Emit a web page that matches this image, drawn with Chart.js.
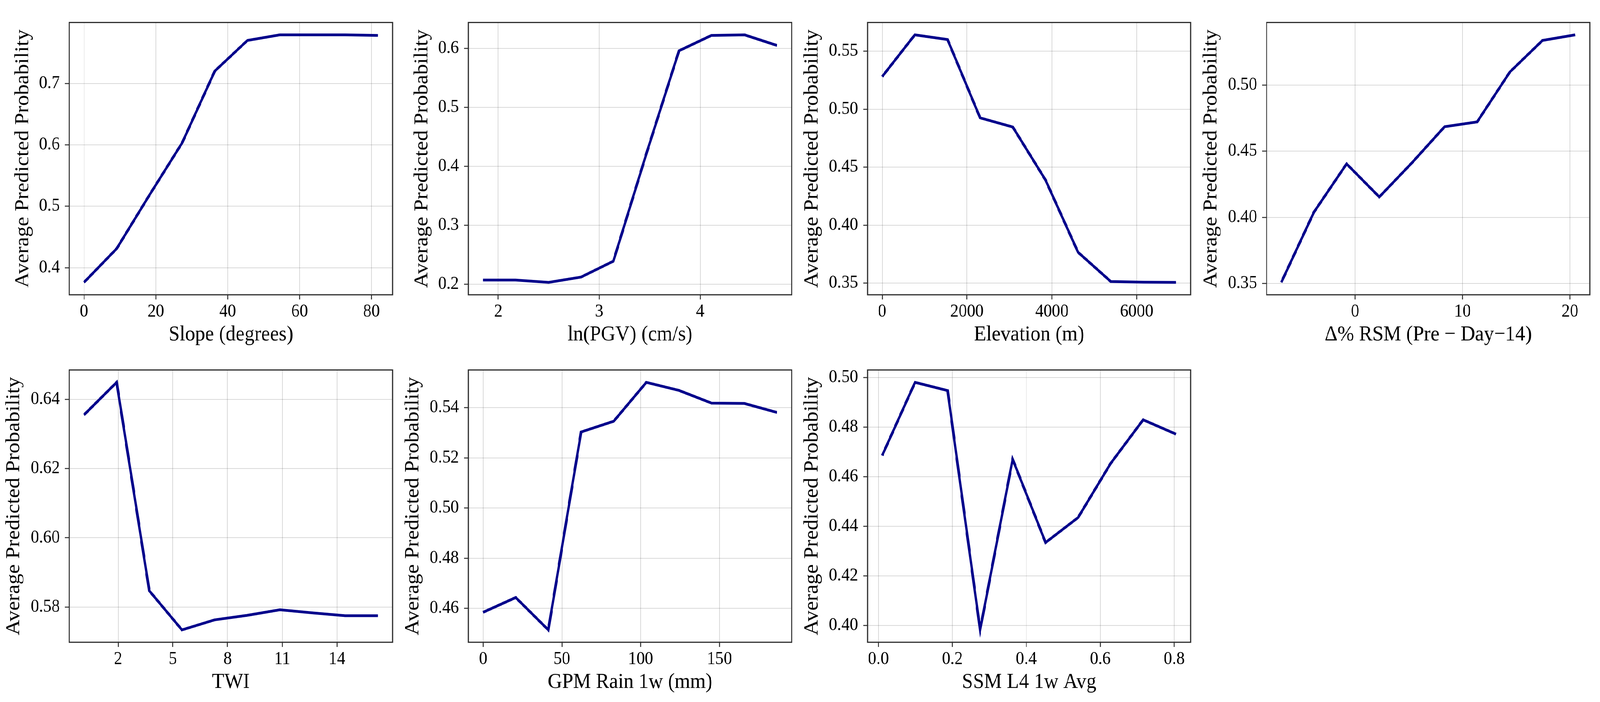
<!DOCTYPE html>
<html lang="en">
<head>
<meta charset="UTF-8">
<title>Average Predicted Probability</title>
<script src="https://cdn.jsdelivr.net/npm/chart.js"></script>
<style>
  html, body { margin: 0; padding: 0; background: #fff; overflow: hidden; }
  #page { position: absolute; left: 0; top: 0; width: 4410px; height: 1798px; transform-origin: 0 0; background: #fff; }
  canvas { position: absolute; }
</style>
</head>
<body>
<div id="page"></div>
<script>
// values
const slopeX = [0, 9.1, 18.2, 27.3, 36.4, 45.5, 54.5, 63.6, 72.7, 81.8];
const slopeY = [0.376, 0.431, 0.518, 0.603, 0.720, 0.770, 0.779, 0.779, 0.779, 0.778];
const slopeXTicks = ['0', '20', '40', '60', '80'];
const slopeYTicks = ['0.4', '0.5', '0.6', '0.7'];

const pgvX = [1.85, 2.17, 2.50, 2.82, 3.14, 3.47, 3.79, 4.11, 4.44, 4.76];
const pgvY = [0.207, 0.207, 0.203, 0.212, 0.239, 0.423, 0.596, 0.622, 0.623, 0.605];
const pgvXTicks = ['2', '3', '4'];
const pgvYTicks = ['0.2', '0.3', '0.4', '0.5', '0.6'];

const elevX = [0, 770, 1540, 2309, 3079, 3849, 4619, 5389, 6158, 6928];
const elevY = [0.528, 0.564, 0.560, 0.4925, 0.4846, 0.439, 0.3766, 0.3515, 0.3509, 0.3507];
const elevXTicks = ['0', '2000', '4000', '6000'];
const elevYTicks = ['0.35', '0.40', '0.45', '0.50', '0.55'];

const rsmX = [-6.87, -3.83, -0.79, 2.25, 5.29, 8.33, 11.36, 14.40, 17.44, 20.48];
const rsmY = [0.3508, 0.4039, 0.4404, 0.4154, 0.4412, 0.4685, 0.4721, 0.5098, 0.5337, 0.5379];
const rsmXTicks = ['0', '10', '20'];
const rsmYTicks = ['0.35', '0.40', '0.45', '0.50'];

const twiX = [0.13, 1.92, 3.71, 5.50, 7.29, 9.08, 10.87, 12.66, 14.45, 16.24];
const twiY = [0.6355, 0.6449, 0.5847, 0.5734, 0.5763, 0.5776, 0.5792, 0.5783, 0.5775, 0.5775];
const twiXTicks = ['2', '5', '8', '11', '14'];
const twiYTicks = ['0.58', '0.60', '0.62', '0.64'];

const gpmX = [0, 20.7, 41.4, 62.2, 82.9, 103.6, 124.3, 145.0, 165.8, 186.5];
const gpmY = [0.4584, 0.4643, 0.4514, 0.5303, 0.5346, 0.5501, 0.5469, 0.5418, 0.5417, 0.5381];
const gpmXTicks = ['0', '50', '100', '150'];
const gpmYTicks = ['0.46', '0.48', '0.50', '0.52', '0.54'];

const ssmX = [0.010, 0.099, 0.187, 0.275, 0.363, 0.452, 0.540, 0.628, 0.716, 0.805];
const ssmY = [0.4685, 0.498, 0.4947, 0.3982, 0.467, 0.4334, 0.4435, 0.4653, 0.4829, 0.4771];
const ssmXTicks = ['0.0', '0.2', '0.4', '0.6', '0.8'];
const ssmYTicks = ['0.40', '0.42', '0.44', '0.46', '0.48', '0.50'];

const yTitle = 'Average Predicted Probability';
const xTitles = ['Slope (degrees)', 'ln(PGV) (cm/s)', 'Elevation (m)', 'Δ% RSM (Pre − Day−14)',
                 'TWI', 'GPM Rain 1w (mm)', 'SSM L4 1w Avg'];

const panels = [
  [slopeX, slopeY, slopeXTicks, slopeYTicks],
  [pgvX, pgvY, pgvXTicks, pgvYTicks],
  [elevX, elevY, elevXTicks, elevYTicks],
  [rsmX, rsmY, rsmXTicks, rsmYTicks],
  [twiX, twiY, twiXTicks, twiYTicks],
  [gpmX, gpmY, gpmXTicks, gpmYTicks],
  [ssmX, ssmY, ssmXTicks, ssmYTicks]
];

// layout in figure pixels (4410 x 1798)
const COL_LEFT = [191, 1291, 2391, 3491];
const ROW_TOP = [36, 926];
const PLOT_W = 891, PLOT_H = 719;
const YW = 200, XH = 140, PAD_T = 20, PAD_R = 20;
const FONT = "'Liberation Serif', 'Times New Roman', serif";
const LINE = '#00008B';

// the window can be narrower than the figure: stretch it over the viewport
const page = document.getElementById('page');
const sx = (window.innerWidth || 4410) / 4410;
const sy = (window.innerHeight || 1798) / 1798;
page.style.transform = 'scale(' + sx + ',' + sy + ')';

// matplotlib-like 5% margins
function padRange(vals) {
  const lo = Math.min(...vals), hi = Math.max(...vals);
  const m = (hi - lo) * 0.05;
  return [lo - m, hi + m];
}

const framePlugin = {
  id: 'frame',
  afterDraw(chart) {
    const { ctx, chartArea: a } = chart;
    ctx.save();
    ctx.strokeStyle = '#2b2b2b';
    ctx.lineWidth = 3;
    ctx.strokeRect(a.left, a.top, a.right - a.left, a.bottom - a.top);
    ctx.restore();
  }
};

function gridOpts() {
  return {
    color: 'rgba(0,0,0,0.15)',
    lineWidth: 2,
    borderDash: [8, 4.5],
    drawTicks: true,
    tickLength: 12,
    tickColor: '#2b2b2b',
    tickWidth: 2.5,
    tickBorderDash: []
  };
}

panels.forEach(([xs, ys, xt, yt], i) => {
  const col = i % 4, row = Math.floor(i / 4);
  const canvas = document.createElement('canvas');
  const w = YW + PLOT_W + PAD_R, h = PAD_T + PLOT_H + XH;
  canvas.width = w; canvas.height = h;
  canvas.style.width = w + 'px'; canvas.style.height = h + 'px';
  canvas.style.left = (COL_LEFT[col] - YW) + 'px';
  canvas.style.top = (ROW_TOP[row] - PAD_T) + 'px';
  page.appendChild(canvas);

  const [xmin, xmax] = padRange(xs);
  const [ymin, ymax] = padRange(ys);
  const xVals = xt.map(Number), yVals = yt.map(Number);
  // wider tick labels push the y title further left
  const widest = Math.max(...yt.map(s => s.length));
  const yTitlePad = 40 - 25 * (widest - 3);

  new Chart(canvas, {
    type: 'line',
    data: {
      datasets: [{
        data: xs.map((x, k) => ({ x: x, y: ys[k] })),
        borderColor: LINE,
        borderWidth: 7,
        pointRadius: 0,
        tension: 0,
        fill: false
      }]
    },
    options: {
      responsive: false,
      animation: false,
      layout: { padding: { top: PAD_T, right: PAD_R, left: 0, bottom: 0 } },
      plugins: { legend: { display: false }, tooltip: { enabled: false } },
      scales: {
        x: {
          type: 'linear',
          min: xmin, max: xmax,
          afterBuildTicks: s => { s.ticks = xVals.map(v => ({ value: v })); },
          afterFit: s => { s.height = XH; },
          grid: gridOpts(),
          border: { display: false },
          ticks: {
            autoSkip: false, maxRotation: 0, padding: 4,
            color: '#000', font: { family: FONT, size: 46 },
            callback: (v, k) => xt[k]
          },
          title: {
            display: true, text: xTitles[i], color: '#000',
            font: { family: FONT, size: 55 },
            padding: { top: 0, bottom: 4 }
          }
        },
        y: {
          type: 'linear',
          min: ymin, max: ymax,
          afterBuildTicks: s => { s.ticks = yVals.map(v => ({ value: v })); },
          afterFit: s => { s.width = YW; },
          grid: gridOpts(),
          border: { display: false },
          ticks: {
            autoSkip: false, padding: 14,
            color: '#000', font: { family: FONT, size: 46 },
            callback: (v, k) => yt[k]
          },
          title: {
            display: true, text: yTitle, color: '#000',
            font: { family: FONT, size: 55 },
            padding: { top: yTitlePad, bottom: 0 }
          }
        }
      }
    },
    plugins: [framePlugin]
  });
});
</script>
</body>
</html>
